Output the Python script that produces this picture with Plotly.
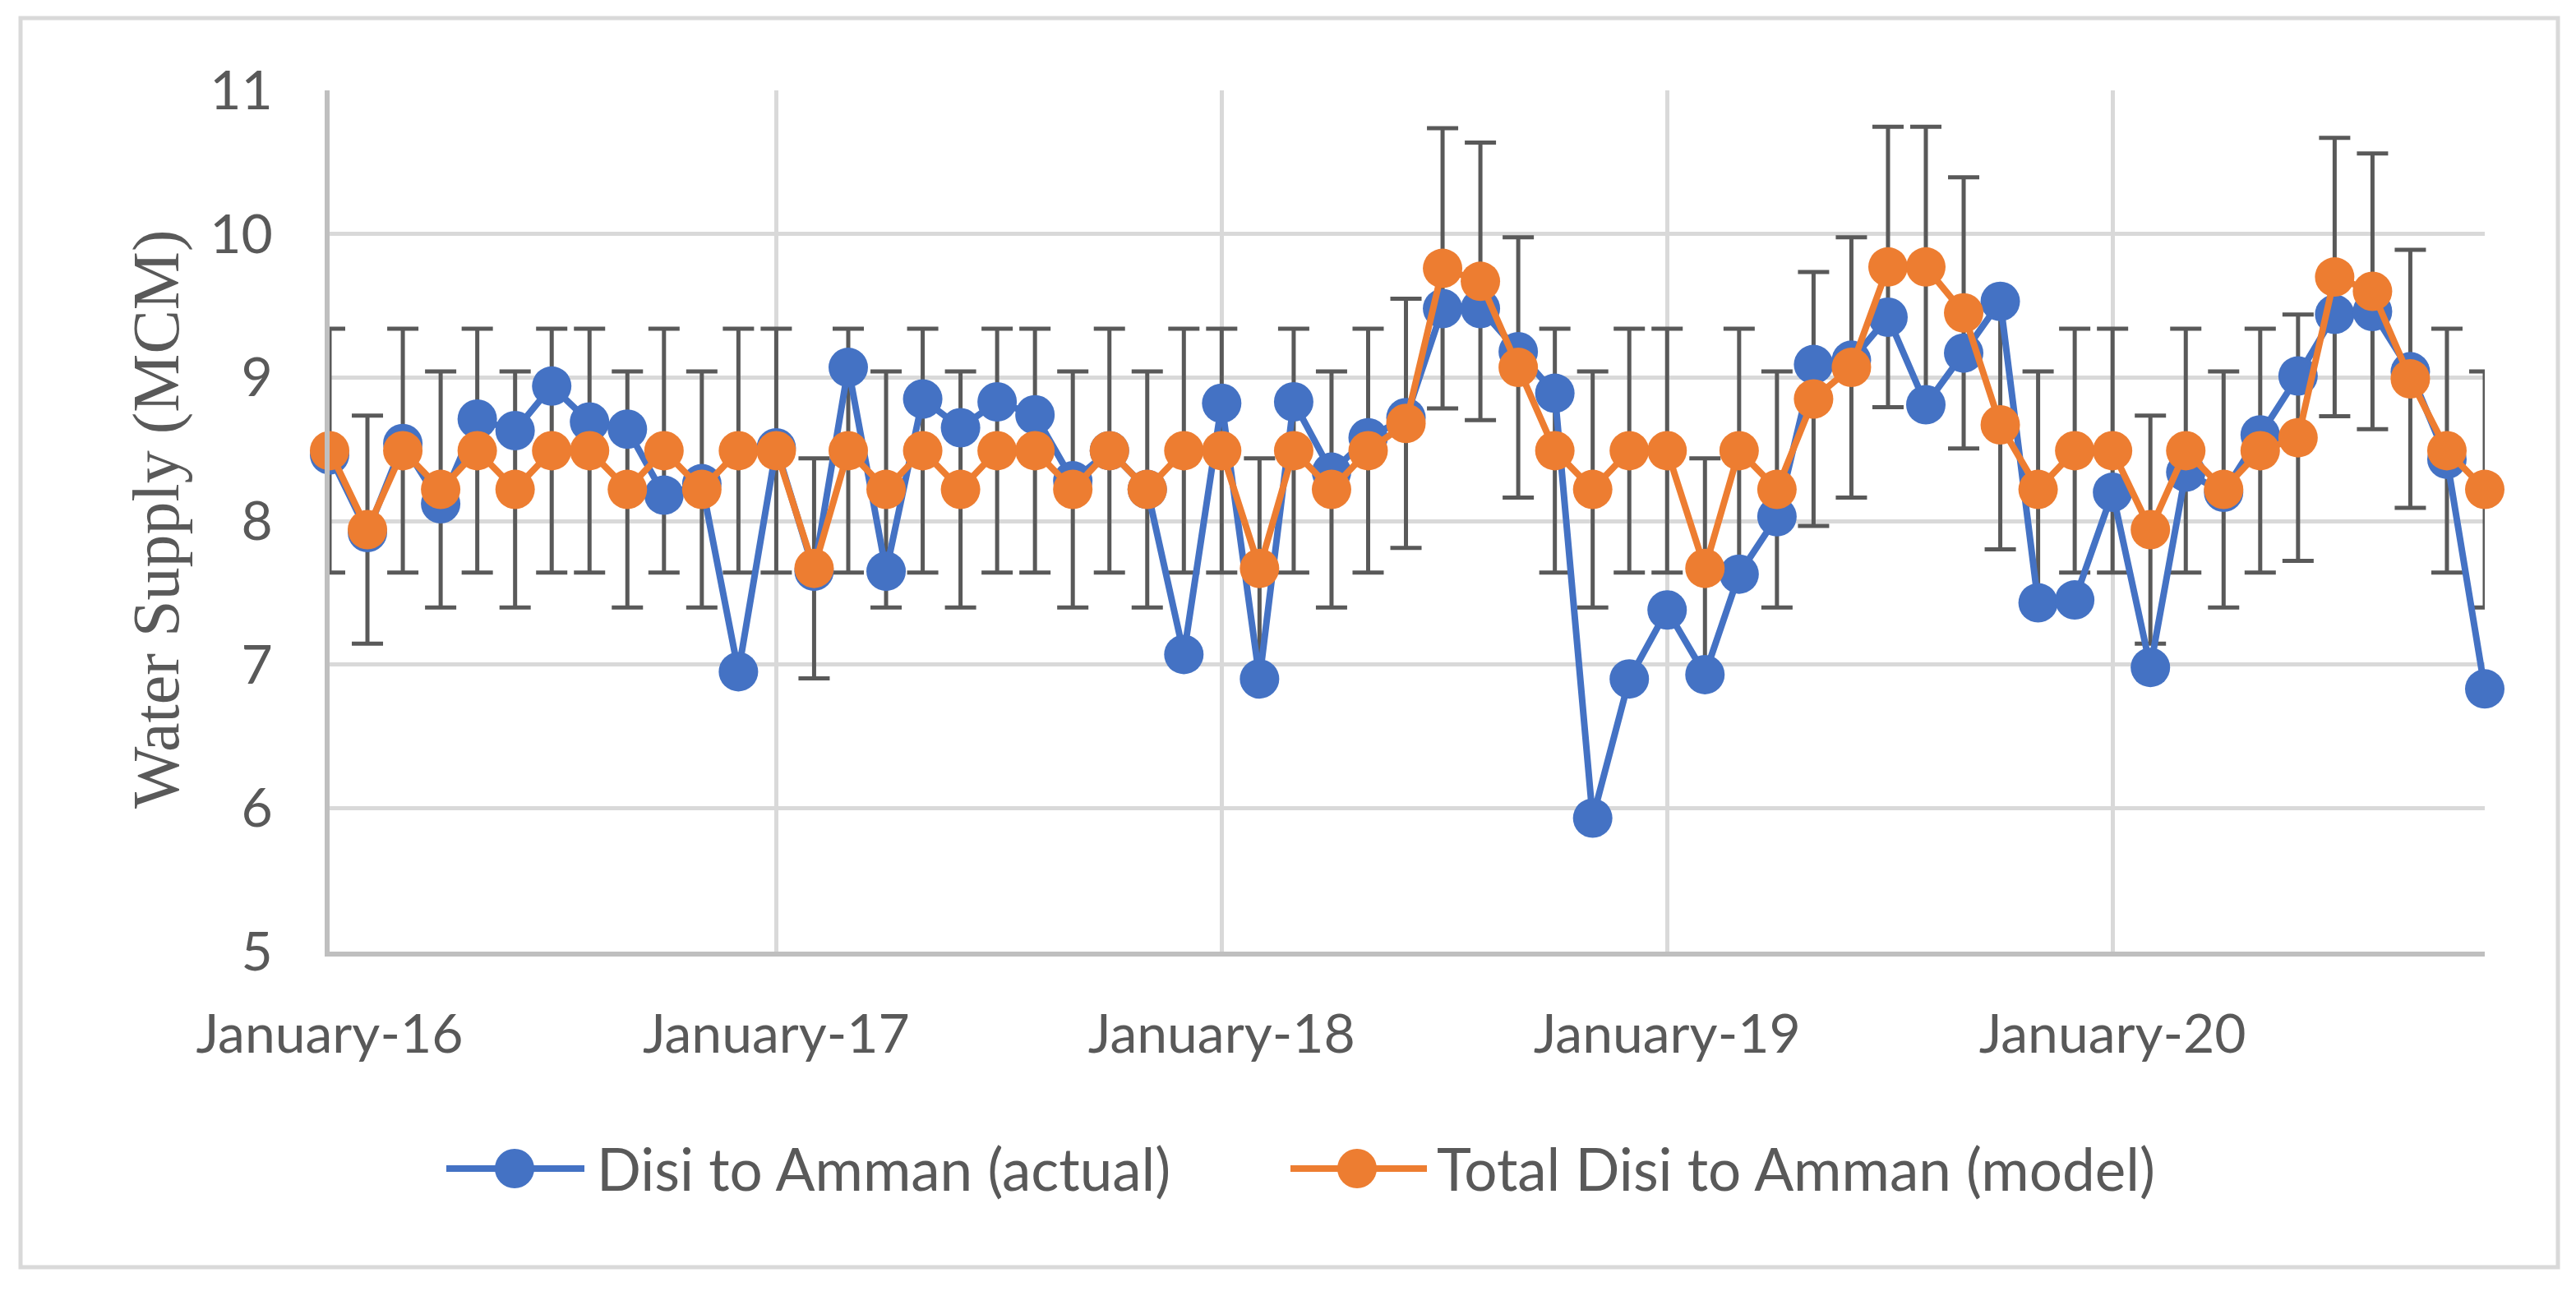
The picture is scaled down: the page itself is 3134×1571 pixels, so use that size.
import plotly.graph_objects as go

# ---------------- data ----------------
start_year, start_month, n_months = 2016, 1, 59
months = [f"{start_year + (start_month - 1 + i) // 12}-{(start_month - 1 + i) % 12 + 1:02d}-01"
          for i in range(n_months)]

actual = [8.46, 7.92, 8.54, 8.12, 8.71, 8.63, 8.94, 8.69, 8.64, 8.18, 8.26, 6.95,
          8.51, 7.65, 9.07, 7.65, 8.85, 8.65, 8.83, 8.74, 8.28, 8.49, 8.22, 7.07,
          8.82, 6.90, 8.83, 8.34, 8.58, 8.72, 9.48, 9.48, 9.18, 8.89, 5.93, 6.90,
          7.38, 6.93, 7.63, 8.03, 9.09, 9.12, 9.42, 8.81, 9.17, 9.53, 7.43, 7.45,
          8.20, 6.98, 8.34, 8.20, 8.60, 9.01, 9.44, 9.46, 9.04, 8.43, 6.83]

model = [8.49, 7.94, 8.49, 8.22, 8.49, 8.22, 8.49, 8.49, 8.22, 8.49, 8.22, 8.49,
         8.49, 7.67, 8.49, 8.22, 8.49, 8.22, 8.49, 8.49, 8.22, 8.49, 8.22, 8.49,
         8.49, 7.67, 8.49, 8.22, 8.49, 8.68, 9.76, 9.67, 9.07, 8.49, 8.22, 8.49,
         8.49, 7.67, 8.49, 8.22, 8.85, 9.07, 9.77, 9.77, 9.45, 8.67, 8.22, 8.49,
         8.49, 7.94, 8.49, 8.22, 8.49, 8.58, 9.70, 9.60, 8.99, 8.49, 8.22]

error_percent = 10
series_names = ["Disi to Amman (actual)", "Total Disi to Amman (model)"]
y_title = "Water Supply (MCM)"
y_ticks = [5, 6, 7, 8, 9, 10, 11]

# ---------------- style ----------------
BLUE = "#4472C4"
ORANGE = "#ED7D31"
GRID = "#D9D9D9"
AXIS = "#BFBFBF"
TEXT = "#595959"
W, H = 3134, 1571
L, R, T, B = 401, 111, 110, 413
PW, PH = W - L - R, H - T - B


def px(x):
    return (x - L) / PW


def py(y):
    return (H - B - y) / PH


fig = go.Figure()

# error bars (drawn beneath both series)
fig.add_trace(go.Scatter(
    x=months, y=model, mode="markers",
    marker=dict(size=1, color="rgba(0,0,0,0)"),
    error_y=dict(type="percent", value=error_percent, color="#595959",
                 thickness=5, width=19),
    showlegend=False, hoverinfo="skip", cliponaxis=False))

fig.add_trace(go.Scatter(
    x=months, y=actual, mode="lines+markers", name=series_names[0],
    line=dict(color=BLUE, width=8),
    marker=dict(size=48, color=BLUE),
    showlegend=False, cliponaxis=False))

fig.add_trace(go.Scatter(
    x=months, y=model, mode="lines+markers", name=series_names[1],
    line=dict(color=ORANGE, width=8),
    marker=dict(size=48, color=ORANGE),
    showlegend=False, cliponaxis=False))

fig.update_xaxes(
    type="date", range=[months[0], months[-1]],
    dtick="M12", tick0=months[0], tickformat="%B-%y",
    showgrid=True, gridcolor=GRID, gridwidth=5,
    showline=True, linecolor=AXIS, linewidth=6,
    ticks="", ticklabelstandoff=38,
    tickfont=dict(family="Lato", size=66, color=TEXT),
    zeroline=False)

fig.update_yaxes(
    range=[5, 11], tickvals=y_ticks,
    showgrid=True, gridcolor=GRID, gridwidth=5,
    showline=True, linecolor=AXIS, linewidth=6,
    ticks="", ticklabelstandoff=50,
    tickfont=dict(family="Lato", size=66, color=TEXT),
    zeroline=False)

# custom legend
legend_y = py(1422)
legend_items = [
    (series_names[0], BLUE, 543, 711, 626, 724),
    (series_names[1], ORANGE, 1570, 1736, 1651, 1746),
]
shapes = []
annotations = []
for name, col, x0, x1, xc, xt in legend_items:
    shapes.append(dict(type="line", xref="paper", yref="paper",
                       x0=px(x0), x1=px(x1), y0=legend_y, y1=legend_y,
                       line=dict(color=col, width=8)))
    shapes.append(dict(type="circle", xref="paper", yref="paper",
                       xsizemode="pixel", ysizemode="pixel",
                       xanchor=px(xc), yanchor=legend_y,
                       x0=-24, x1=24, y0=-24, y1=24,
                       fillcolor=col, line=dict(color=col, width=0)))
    annotations.append(dict(text=name, xref="paper", yref="paper",
                            x=px(xt), y=legend_y, xanchor="left", yanchor="middle",
                            showarrow=False,
                            font=dict(family="Lato", size=71, color=TEXT)))

# y-axis title
annotations.append(dict(text=y_title, xref="paper", yref="paper",
                        x=px(190), y=py(632), xanchor="center", yanchor="middle",
                        textangle=-90, showarrow=False,
                        font=dict(family="Liberation Serif", size=80, color=TEXT)))

# outer chart border
shapes.append(dict(type="rect", xref="paper", yref="paper",
                   x0=px(25), x1=px(3112), y0=py(22), y1=py(1542),
                   line=dict(color=GRID, width=5), fillcolor="rgba(0,0,0,0)",
                   layer="below"))

fig.update_layout(
    width=W, height=H,
    margin=dict(l=L, r=R, t=T, b=B),
    paper_bgcolor="white", plot_bgcolor="white",
    shapes=shapes, annotations=annotations,
    font=dict(family="Lato", color=TEXT),
)

fig.write_html("out.html",
               config={"displayModeBar": False},
               post_script="document.body.style.margin='0';document.body.style.overflow='hidden';")
